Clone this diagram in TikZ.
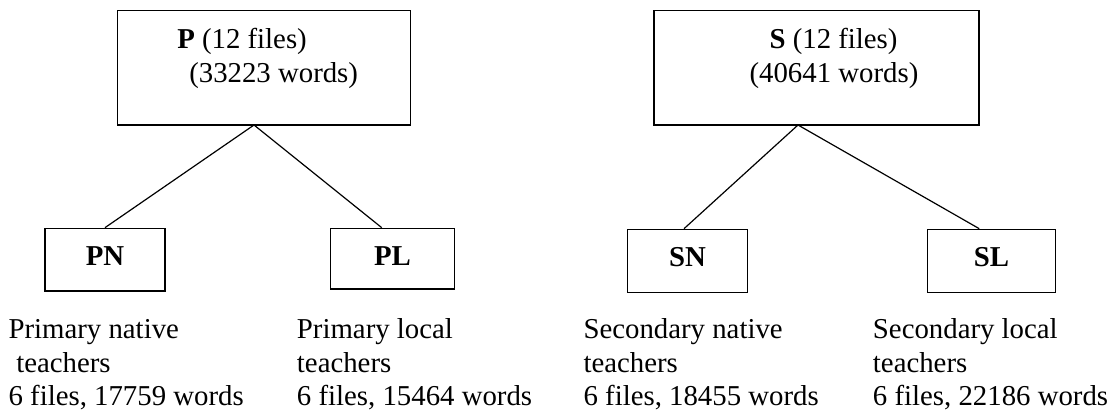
\documentclass[tikz,border=0pt]{standalone}
\usepackage{fontspec}
\setmainfont{Liberation Serif}
\begin{document}
\begin{tikzpicture}[x=0.75pt,y=-0.75pt,
  box/.style={draw=black,line width=1pt,rectangle,inner sep=0pt},
  txt/.style={anchor=base west,inner sep=0pt,font=\fontsize{21.6}{25}\selectfont},
  lbl/.style={anchor=base,inner sep=0pt,font=\fontsize{21.6}{25}\selectfont\bfseries},
  link/.style={draw=black,line width=0.9pt}]
\useasboundingbox (0,0) rectangle (1114,411);
% top boxes
\node[box,minimum width=220.05pt,minimum height=85.7pt] (P) at (264,67.85) {};
\node[box,minimum width=243.75pt,minimum height=85.7pt] (S) at (816.5,67.85) {};
% child boxes
\node[box,minimum width=90pt,minimum height=47pt] (PN) at (105,259.65) {};
\node[box,minimum width=92.7pt,minimum height=45.5pt] (PL) at (392.5,258.65) {};
\node[box,minimum width=90.3pt,minimum height=47.5pt] (SN) at (687.5,261) {};
\node[box,minimum width=96.3pt,minimum height=47.5pt] (SL) at (991.5,261) {};
% box texts
\node[txt] (Pt1) at (177,48) {\textbf{P} (12 files)};
\node[txt] (Pt2) at (189,82) {(33223 words)};
\node[txt] (St1) at (769.3,48) {\textbf{S} (12 files)};
\node[txt] (St2) at (749.3,82) {(40641 words)};
\node[lbl] (PNt) at (105,265.7) {PN};
\node[lbl] (PLt) at (392.5,265.7) {PL};
\node[lbl] (SNt) at (687.5,266) {SN};
\node[lbl] (SLt) at (991.5,266) {SL};
% connectors
\coordinate (Pa) at (254,125);
\coordinate (Sa) at (798,125);
\draw[link] (Pa) -- (PN.north);
\draw[link] (Pa) -- ([xshift=-8.1pt]PL.north);
\draw[link] (Sa) -- ([xshift=-2.6pt]SN.north);
\draw[link] (Sa) -- ([xshift=-9.2pt]SL.north);
% descriptions
\node[txt] (d1a) at (8.3,338) {Primary native};
\node[txt] (d1b) at (16,372) {teachers};
\node[txt] (d1c) at (8.3,405) {6 files, 17759 words};
\node[txt] (d2a) at (296.7,338) {Primary local};
\node[txt] (d2b) at (296.7,372) {teachers};
\node[txt] (d2c) at (296.7,405) {6 files, 15464 words};
\node[txt] (d3a) at (583.3,338) {Secondary native};
\node[txt] (d3b) at (583.3,372) {teachers};
\node[txt] (d3c) at (583.3,405) {6 files, 18455 words};
\node[txt] (d4a) at (872.7,338) {Secondary local};
\node[txt] (d4b) at (872.7,372) {teachers};
\node[txt] (d4c) at (872.7,405) {6 files, 22186 words};
\end{tikzpicture}
\end{document}
